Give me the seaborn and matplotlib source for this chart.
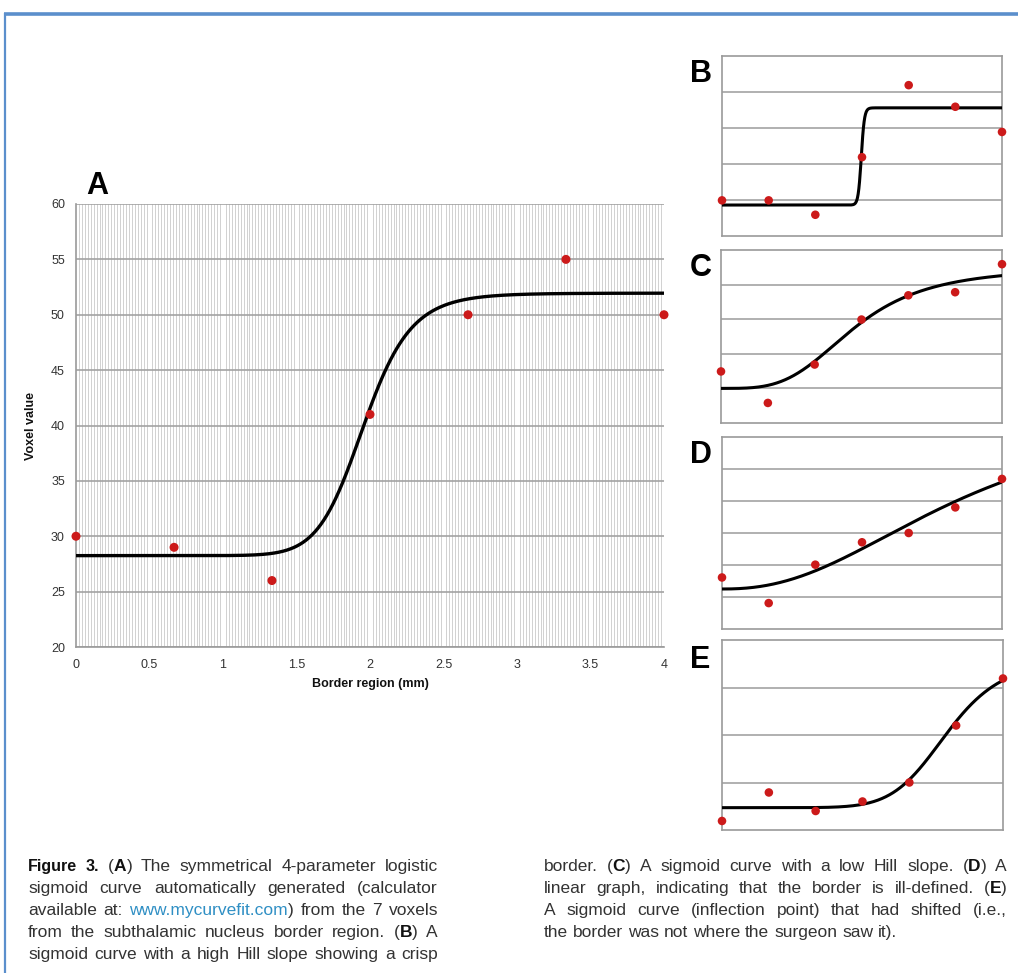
import numpy as np
import pandas as pd
import matplotlib
matplotlib.use("Agg")
import matplotlib.pyplot as plt
from matplotlib.lines import Line2D
from matplotlib.ticker import MultipleLocator
import seaborn as sns

# ---------------- data ----------------
x_points = [0, 0.667, 1.333, 2.0, 2.667, 3.333, 4.0]

a_values = [30, 29, 26, 41, 50, 55, 50]
b_values = [0.99, 0.99, 0.59, 2.19, 4.19, 3.59, 2.89]
c_values = [1.49, 0.58, 1.69, 2.99, 3.69, 3.78, 4.59]
d_values = [1.61, 0.81, 2.01, 2.71, 3.00, 3.80, 4.69]
e_values = [0.19, 0.79, 0.40, 0.60, 1.00, 2.20, 3.19]

# 4-parameter logistic fits drawn in each panel: bottom, top, inflection, Hill slope
a_fit = [28.25, 51.95, 1.96, 12.3]
b_fit = [0.86, 3.56, 1.99, 90.0]
c_fit = [1.00, 4.50, 1.90, 3.5]
d_fit = [1.25, 7.05, 3.50, 2.3]
e_fit = [0.47, 3.60, 3.20, 8.0]

a_yticks = [20, 25, 30, 35, 40, 45, 50, 55, 60]
a_xticks = [0, 0.5, 1, 1.5, 2, 2.5, 3, 3.5, 4]
a_xticklabels = ["0", "0.5", "1", "1.5", "2", "2.5", "3", "3.5", "4"]

panel_labels = ["A", "B", "C", "D", "E"]
small_ymax = [5, 5, 6, 4]   # B, C, D, E

caption_left = [
    [("Figure 3.", "head"), (" (", "normal"), ("A", "bold"), (") The symmetrical 4-parameter logistic", "normal")],
    [("sigmoid curve automatically generated (calculator", "normal")],
    [("available at: ", "normal"), ("www.mycurvefit.com", "link"), (") from the 7 voxels", "normal")],
    [("from the subthalamic nucleus border region. (", "normal"), ("B", "bold"), (") A", "normal")],
    [("sigmoid curve with a high Hill slope showing a crisp", "normal")],
]
caption_right = [
    [("border. (", "normal"), ("C", "bold"), (") A sigmoid curve with a low Hill slope. (", "normal"), ("D", "bold"), (") A", "normal")],
    [("linear graph, indicating that the border is ill-defined. (", "normal"), ("E", "bold"), (")", "normal")],
    [("A sigmoid curve (inflection point) that had shifted (i.e.,", "normal")],
    [("the border was not where the surgeon saw it).", "normal")],
]


def logistic4(x, p):
    bottom, top, c, hill = p
    r = np.power(np.asarray(x) / c, hill)
    return bottom + (top - bottom) * r / (1.0 + r)


# ---------------- style ----------------
sns.set_style("white")
plt.rcParams["font.family"] = ["Liberation Sans", "DejaVu Sans"]

W, H = 1018, 973
fig = plt.figure(figsize=(W / 100, H / 100), dpi=100)

RED = "#cc1a1a"
GRID = "#a3a3a3"
SPINE = "#9a9a9a"


def px_axes(left, top, right, bottom):
    return fig.add_axes([left / W, 1 - bottom / H, (right - left) / W, (bottom - top) / H])


xs = np.linspace(0, 4, 801)

# ---------------- panel A ----------------
axA = px_axes(76, 204, 664, 647)
curve = pd.DataFrame({"x": xs, "y": logistic4(xs, a_fit)})
pts = pd.DataFrame({"x": x_points, "y": a_values})
axA.set_xlim(0, 4)
axA.set_ylim(20, 60)
axA.xaxis.set_minor_locator(MultipleLocator(0.02))
axA.grid(which="minor", axis="x", color="#d2d2d2", lw=0.72, antialiased=False)
axA.set_yticks(a_yticks)
axA.grid(which="major", axis="y", color=GRID, lw=1.2)
axA.set_axisbelow(True)
sns.lineplot(data=curve, x="x", y="y", ax=axA, color="black", lw=2.4, zorder=3)
sns.scatterplot(data=pts, x="x", y="y", ax=axA, color=RED, s=42, edgecolor="none",
                zorder=4, clip_on=False)
axA.set_xticks(a_xticks)
axA.set_xticklabels(a_xticklabels)
axA.tick_params(axis="both", which="major", labelsize=9, colors="#333333",
                length=5, width=1, direction="out", color=SPINE, pad=4)
axA.tick_params(axis="both", which="minor", length=0)
axA.tick_params(axis="y", pad=3)
for s in ["top", "right"]:
    axA.spines[s].set_visible(False)
for s in ["left", "bottom"]:
    axA.spines[s].set_color(SPINE)
    axA.spines[s].set_linewidth(1.2)
axA.set_xlabel("Border region (mm)", fontsize=9, fontweight="bold", labelpad=5,
               color="#111111")
axA.set_ylabel("Voxel value", fontsize=9, fontweight="bold", labelpad=10,
               color="#111111")
fig.text(86 / W, 1 - 186 / H, panel_labels[0], fontsize=22, fontweight="bold",
         ha="left", va="center", color="black")

# ---------------- small panels ----------------
small_boxes = [(722, 56, 1002, 236), (721, 250, 1002, 423),
               (722, 437, 1002, 629), (722, 640, 1003, 830)]
small_vals = [b_values, c_values, d_values, e_values]
small_fits = [b_fit, c_fit, d_fit, e_fit]
label_y = [74, 268, 455, 660]

for i in range(4):
    l, t, r, b = small_boxes[i]
    ax = px_axes(l, t, r, b)
    ax.set_xlim(0, 4)
    ax.set_ylim(0, small_ymax[i])
    ax.set_yticks(range(1, small_ymax[i]))
    ax.set_xticks([])
    ax.grid(axis="y", color=GRID, lw=1.2)
    ax.set_axisbelow(True)
    cdf = pd.DataFrame({"x": xs, "y": logistic4(xs, small_fits[i])})
    pdf = pd.DataFrame({"x": x_points, "y": small_vals[i]})
    sns.lineplot(data=cdf, x="x", y="y", ax=ax, color="black", lw=2.2, zorder=3)
    sns.scatterplot(data=pdf, x="x", y="y", ax=ax, color=RED, s=38, edgecolor="none",
                    zorder=4, clip_on=False)
    ax.tick_params(left=False, bottom=False, labelleft=False, labelbottom=False)
    ax.set_xlabel("")
    ax.set_ylabel("")
    for s in ax.spines.values():
        s.set_color(SPINE)
        s.set_linewidth(1.2)
    fig.text(690 / W, 1 - label_y[i] / H, panel_labels[i + 1], fontsize=22,
             fontweight="bold", ha="left", va="center", color="black")

# ---------------- frame ----------------
fig.add_artist(Line2D([4 / W, 1], [1 - 14 / H, 1 - 14 / H], color="#5b8fcc", lw=2.6,
                      transform=fig.transFigure, solid_capstyle="butt"))
fig.add_artist(Line2D([5 / W, 5 / W], [1 - 13 / H, 0], color="#5b8fcc", lw=1.6,
                      transform=fig.transFigure, solid_capstyle="butt"))

# ---------------- caption (justified columns) ----------------
CAP_FAMILY = ["Liberation Sans", "DejaVu Sans"]
HEAD_FAMILY = ["DejaVu Sans Condensed", "Liberation Sans Narrow", "Liberation Sans"]
CAP_SIZE = 12.5
renderer = fig.canvas.get_renderer()


def style(kind):
    kw = dict(fontsize=CAP_SIZE, family=CAP_FAMILY, ha="left", va="baseline",
              color="#333333")
    if kind == "bold":
        kw["fontweight"] = "bold"
        kw["color"] = "#111111"
    elif kind == "head":
        kw["fontweight"] = "bold"
        kw["color"] = "#111111"
        kw["family"] = HEAD_FAMILY
        kw["fontsize"] = CAP_SIZE - 1.0
    elif kind == "link":
        kw["color"] = "#2f8fc4"
    return kw


def tokenize(parts):
    words = [[]]
    for txt, kind in parts:
        pieces = txt.split(" ")
        for k, p in enumerate(pieces):
            if k > 0 and words[-1]:
                words.append([])
            if p:
                words[-1].append((p, kind))
    if not words[-1]:
        words.pop()
    return words


space_t = fig.text(0, 0, "a a", **style("normal"))
aa_t = fig.text(0, 0, "aa", **style("normal"))
SPACE_W = (space_t.get_window_extent(renderer).width
           - aa_t.get_window_extent(renderer).width)
space_t.remove()
aa_t.remove()


def draw_line(parts, x0, y0, col_w, justify):
    words = tokenize(parts)
    placed = []
    total = 0.0
    for w in words:
        frags = []
        for txt, kind in w:
            t = fig.text(0, 1 - y0 / H, txt, **style(kind))
            wpx = t.get_window_extent(renderer).width
            frags.append((t, wpx))
            total += wpx
        placed.append(frags)
    gaps = len(words) - 1
    gap = SPACE_W
    if justify and gaps > 0:
        gap = max(SPACE_W, (col_w - total) / gaps)
    x = x0
    for frags in placed:
        for t, wpx in frags:
            t.set_x(x / W)
            x += wpx
        x += gap


LEFT_X, LEFT_W = 28, 410
RIGHT_X, RIGHT_W = 544, 463
BASE_Y, LINE_H = 871, 22

for j, parts in enumerate(caption_left):
    draw_line(parts, LEFT_X, BASE_Y + LINE_H * j, LEFT_W, True)
for j, parts in enumerate(caption_right):
    draw_line(parts, RIGHT_X, BASE_Y + LINE_H * j, RIGHT_W, j < len(caption_right) - 1)

fig.savefig("out.png", dpi=100)
